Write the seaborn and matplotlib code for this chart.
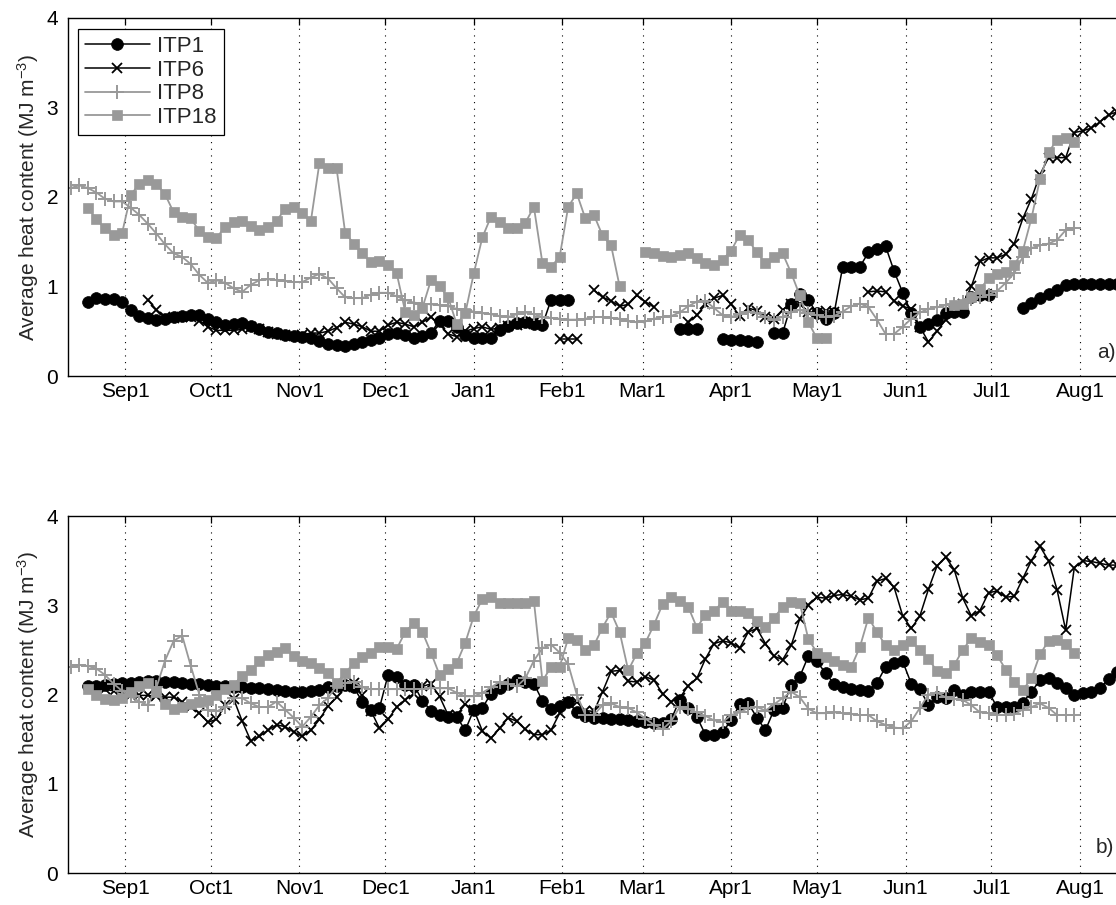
import numpy as np
import pandas as pd
import matplotlib
matplotlib.use("Agg")
import matplotlib.pyplot as plt
import seaborn as sns
from matplotlib.lines import Line2D

N = np.nan

# ---- axis labels / ticks ----
month_labels = ["Sep1", "Oct1", "Nov1", "Dec1", "Jan1", "Feb1",
                "Mar1", "Apr1", "May1", "Jun1", "Jul1", "Aug1"]
month_days = [0, 30, 61, 91, 122, 153, 181, 212, 242, 273, 303, 334]  # days after Sep 1
y_ticks = [0, 1, 2, 3, 4]
ylabel = "Average heat content (MJ m$^{-3}$)"
series_names = ["ITP1", "ITP6", "ITP8", "ITP18"]

# sampling: one value every 3 days starting 19 days before Sep 1
day0, step = -19, 3

# ---- panel a ----
itp1_a = [N, N, 0.83, 0.87, 0.86, 0.86, 0.83, 0.74, 0.67, 0.65,
          0.63, 0.64, 0.66, 0.67, 0.68, 0.68, 0.64, 0.60, 0.57, 0.58,
          0.59, 0.56, 0.52, 0.49, 0.48, 0.46, 0.45, 0.44, 0.42, 0.39,
          0.36, 0.35, 0.33, 0.36, 0.38, 0.40, 0.43, 0.47, 0.48, 0.46,
          0.43, 0.45, 0.48, 0.62, 0.62, 0.55, 0.46, 0.43, 0.42, 0.43,
          0.51, 0.56, 0.59, 0.60, 0.58, 0.57, 0.85, 0.85, 0.85, N,
          N, N, N, N, N, N, N, N, N, N,
          N, 0.52, 0.52, 0.52, N, N, 0.41, 0.40, 0.40, 0.39,
          0.38, N, 0.48, 0.48, 0.80, 0.92, 0.85, 0.70, 0.64, 0.70,
          1.22, 1.22, 1.22, 1.38, 1.42, 1.45, 1.17, 0.93, 0.70, 0.55,
          0.58, 0.63, 0.70, 0.71, 0.72, 0.88, 0.90, 0.90, N, N,
          N, 0.76, 0.82, 0.87, 0.92, 0.96, 1.02, 1.03, 1.03, 1.03,
          1.03, 1.03, 1.03]
itp6_a = [N, N, N, N, N, N, N, N, N, 0.85,
          0.74, 0.66, 0.65, 0.66, 0.66, 0.62, 0.55, 0.51, 0.51, 0.51,
          0.52, 0.55, 0.52, 0.49, 0.47, 0.46, 0.45, 0.46, 0.48, 0.48,
          0.50, 0.54, 0.60, 0.58, 0.55, 0.50, 0.50, 0.57, 0.60, 0.58,
          0.55, 0.60, 0.66, 0.58, 0.47, 0.44, 0.50, 0.53, 0.55, 0.52,
          0.54, 0.56, 0.57, 0.58, 0.60, N, N, 0.41, 0.41, 0.41,
          N, 0.96, 0.88, 0.84, 0.78, 0.80, 0.90, 0.83, 0.77, N,
          N, N, 0.60, 0.68, 0.80, 0.87, 0.90, 0.80, 0.67, 0.76,
          0.73, 0.66, 0.64, 0.74, 0.81, 0.80, 0.72, 0.70, 0.73, 0.72,
          N, N, N, 0.94, 0.95, 0.94, 0.84, 0.78, 0.75, 0.55,
          0.38, 0.50, 0.63, 0.73, 0.80, 1.00, 1.28, 1.32, 1.32, 1.36,
          1.48, 1.76, 1.98, 2.25, 2.44, 2.44, 2.44, 2.72, 2.74, 2.77,
          2.84, 2.92, 2.95]
itp8_a = [2.10, 2.13, 2.10, 2.05, 1.98, 1.95, 1.95, 1.88, 1.80, 1.70,
          1.59, 1.47, 1.37, 1.33, 1.25, 1.13, 1.04, 1.07, 1.04, 0.98,
          0.94, 1.02, 1.07, 1.08, 1.07, 1.06, 1.05, 1.05, 1.10, 1.14,
          1.09, 0.98, 0.88, 0.87, 0.87, 0.91, 0.93, 0.93, 0.89, 0.85,
          0.82, 0.81, 0.80, 0.79, 0.78, 0.75, 0.74, 0.72, 0.70, 0.69,
          0.67, 0.66, 0.69, 0.71, 0.69, 0.66, 0.65, 0.64, 0.63, 0.63,
          0.64, 0.66, 0.66, 0.65, 0.64, 0.61, 0.60, 0.61, 0.64, 0.66,
          0.67, 0.71, 0.78, 0.83, 0.84, 0.76, 0.68, 0.66, 0.69, 0.72,
          0.70, 0.66, 0.63, 0.66, 0.71, 0.74, 0.70, 0.68, 0.66, 0.67,
          0.72, 0.78, 0.81, 0.77, 0.63, 0.47, 0.47, 0.55, 0.64, 0.71,
          0.75, 0.77, 0.79, 0.81, 0.83, 0.86, 0.88, 0.91, 0.95, 1.04,
          1.15, 1.33, 1.43, 1.46, 1.48, 1.52, 1.63, 1.65, N, N,
          N, N, N]
itp18_a = [N, N, 1.88, 1.75, 1.65, 1.57, 1.60, 2.02, 2.15, 2.19,
           2.15, 2.03, 1.83, 1.78, 1.76, 1.62, 1.55, 1.54, 1.67, 1.72,
           1.73, 1.68, 1.63, 1.66, 1.73, 1.87, 1.89, 1.82, 1.73, 2.38,
           2.32, 2.32, 1.60, 1.48, 1.37, 1.27, 1.29, 1.24, 1.15, 0.72,
           0.68, 0.76, 1.07, 1.00, 0.88, 0.58, 0.70, 1.15, 1.55, 1.78,
           1.72, 1.65, 1.65, 1.71, 1.89, 1.26, 1.22, 1.33, 1.89, 2.04,
           1.76, 1.80, 1.57, 1.46, 1.00, N, N, 1.39, 1.37, 1.34,
           1.33, 1.35, 1.37, 1.32, 1.26, 1.24, 1.30, 1.40, 1.58, 1.52,
           1.38, 1.26, 1.33, 1.37, 1.15, 0.90, 0.60, 0.42, 0.42, N,
           N, N, N, N, N, N, N, N, N, N,
           N, N, N, 0.79, 0.81, 0.88, 0.97, 1.09, 1.14, 1.16,
           1.24, 1.40, 1.76, 2.20, 2.50, 2.64, 2.66, 2.62, N, N,
           N, N, N]

# ---- panel b ----
itp1_b = [N, N, 2.09, 2.10, 2.11, 2.12, 2.13, 2.13, 2.14, 2.15,
          2.15, 2.14, 2.14, 2.13, 2.12, 2.12, 2.11, 2.10, 2.10, 2.08,
          2.08, 2.07, 2.07, 2.06, 2.05, 2.04, 2.03, 2.03, 2.04, 2.05,
          2.08, 2.09, 2.11, 2.08, 1.92, 1.83, 1.85, 2.22, 2.20, 2.11,
          2.11, 1.93, 1.82, 1.77, 1.75, 1.75, 1.60, 1.83, 1.85, 2.01,
          2.07, 2.12, 2.16, 2.14, 2.12, 1.93, 1.84, 1.87, 1.92, 1.80,
          1.76, 1.74, 1.74, 1.73, 1.72, 1.71, 1.70, 1.69, 1.68, 1.68,
          1.72, 1.94, 1.85, 1.75, 1.55, 1.55, 1.58, 1.71, 1.89, 1.90,
          1.74, 1.60, 1.83, 1.85, 2.11, 2.20, 2.43, 2.37, 2.24, 2.12,
          2.08, 2.06, 2.05, 2.04, 2.13, 2.31, 2.35, 2.37, 2.12, 2.06,
          1.88, 1.97, 1.96, 2.05, 1.99, 2.03, 2.03, 2.03, 1.86, 1.86,
          1.86, 1.91, 2.03, 2.16, 2.18, 2.13, 2.07, 1.99, 2.02, 2.03,
          2.07, 2.17, 2.25]
itp6_b = [N, N, N, N, 2.06, 2.04, 2.02, 2.00, 1.99, 1.99,
          1.98, 1.97, 1.97, 1.92, 1.86, 1.79, 1.69, 1.72, 1.88, 1.95,
          1.70, 1.48, 1.53, 1.60, 1.66, 1.64, 1.58, 1.53, 1.60, 1.72,
          1.87, 1.97, 2.08, 2.13, 1.99, 1.82, 1.62, 1.72, 1.86, 1.94,
          2.01, 2.09, 2.12, 1.98, 1.77, 1.77, 1.89, 1.83, 1.59, 1.51,
          1.62, 1.74, 1.70, 1.61, 1.55, 1.55, 1.60, 1.79, 1.92, 1.92,
          1.82, 1.81, 2.03, 2.26, 2.27, 2.15, 2.14, 2.20, 2.16, 2.01,
          1.92, 1.96, 2.10, 2.18, 2.40, 2.57, 2.60, 2.58, 2.52, 2.70,
          2.74, 2.57, 2.43, 2.39, 2.55, 2.85, 3.00, 3.09, 3.08, 3.11,
          3.12, 3.10, 3.06, 3.08, 3.27, 3.30, 3.20, 2.88, 2.74, 2.88,
          3.18, 3.44, 3.54, 3.40, 3.08, 2.88, 2.94, 3.14, 3.16, 3.09,
          3.10, 3.30, 3.50, 3.66, 3.50, 3.17, 2.72, 3.42, 3.50, 3.49,
          3.47, 3.45, 3.45]
itp8_b = [2.31, 2.33, 2.32, 2.29, 2.22, 2.12, 2.04, 1.98, 1.92, 1.88,
          2.08, 2.38, 2.60, 2.66, 2.32, 2.00, 1.83, 1.81, 1.86, 1.96,
          1.96, 1.90, 1.86, 1.86, 1.92, 1.83, 1.74, 1.64, 1.75, 1.88,
          1.96, 2.10, 2.13, 2.14, 2.08, 2.06, 2.06, 2.06, 2.06, 2.06,
          2.06, 2.06, 2.07, 2.07, 2.07, 2.02, 1.98, 1.98, 2.02, 2.08,
          2.14, 2.12, 2.09, 2.18, 2.38, 2.52, 2.56, 2.47, 2.34, 2.00,
          1.77, 1.77, 1.88, 1.90, 1.86, 1.85, 1.80, 1.73, 1.66, 1.61,
          1.70, 1.86, 1.84, 1.80, 1.76, 1.71, 1.69, 1.77, 1.80, 1.85,
          1.86, 1.82, 1.89, 1.96, 2.03, 1.97, 1.84, 1.79, 1.79, 1.80,
          1.79, 1.78, 1.77, 1.77, 1.70, 1.66, 1.63, 1.62, 1.70, 1.85,
          2.00, 2.02, 1.97, 1.95, 1.94, 1.88, 1.80, 1.79, 1.77, 1.77,
          1.78, 1.83, 1.86, 1.90, 1.85, 1.77, 1.77, 1.77, N, N,
          N, N, N]
itp18_b = [N, N, 2.06, 2.00, 1.95, 1.94, 1.96, 2.03, 2.09, 2.13,
           2.03, 1.89, 1.84, 1.86, 1.89, 1.92, 1.94, 2.00, 2.06, 2.11,
           2.21, 2.28, 2.37, 2.44, 2.48, 2.52, 2.43, 2.38, 2.35, 2.30,
           2.24, 2.13, 2.24, 2.35, 2.42, 2.47, 2.53, 2.53, 2.51, 2.70,
           2.80, 2.70, 2.47, 2.22, 2.29, 2.35, 2.58, 2.88, 3.07, 3.09,
           3.03, 3.02, 3.02, 3.02, 3.05, 2.15, 2.31, 2.31, 2.63, 2.61,
           2.50, 2.55, 2.75, 2.92, 2.70, 2.27, 2.46, 2.58, 2.78, 3.01,
           3.09, 3.05, 2.98, 2.75, 2.89, 2.93, 3.04, 2.93, 2.94, 2.91,
           2.82, 2.76, 2.86, 2.98, 3.04, 3.02, 2.62, 2.47, 2.42, 2.37,
           2.33, 2.31, 2.53, 2.86, 2.70, 2.55, 2.50, 2.56, 2.60, 2.50,
           2.40, 2.26, 2.24, 2.33, 2.50, 2.63, 2.59, 2.55, 2.44, 2.28,
           2.14, 2.05, 2.18, 2.45, 2.60, 2.61, 2.57, 2.46, N, N,
           N, N, N]

panels = {
    "a": {"ITP1": itp1_a, "ITP6": itp6_a, "ITP8": itp8_a, "ITP18": itp18_a},
    "b": {"ITP1": itp1_b, "ITP6": itp6_b, "ITP8": itp8_b, "ITP18": itp18_b},
}

# ---- build long table, splitting series at gaps ----
rows = []
for pname, sers in panels.items():
    for sname, vals in sers.items():
        seg = 0
        prev_nan = True
        for k, v in enumerate(vals):
            if np.isnan(v):
                prev_nan = True
                continue
            if prev_nan:
                seg += 1
            prev_nan = False
            rows.append((pname, sname, seg, day0 + step * k, v))
df = pd.DataFrame(rows, columns=["panel", "series", "seg", "day", "value"])

# ---- style ----
sns.set_style("white")
plt.rcParams["font.family"] = ["Liberation Sans", "DejaVu Sans"]
plt.rcParams["mathtext.fontset"] = "custom"
plt.rcParams["mathtext.rm"] = "Liberation Sans"
plt.rcParams["mathtext.it"] = "Liberation Sans:italic"
plt.rcParams["mathtext.default"] = "regular"
FS = 15
LFS = 16

gray = "#999999"
styles = {
    "ITP1": dict(color="black", marker="o", markersize=8.5, markerfacecolor="black",
                 markeredgecolor="black", markeredgewidth=0.5, linewidth=1.1),
    "ITP6": dict(color="black", marker="x", markersize=7, markerfacecolor="black",
                 markeredgecolor="black", markeredgewidth=1.3, linewidth=1.1),
    "ITP8": dict(color=gray, marker="+", markersize=9.5, markerfacecolor=gray,
                 markeredgecolor=gray, markeredgewidth=1.4, linewidth=1.3),
    "ITP18": dict(color=gray, marker="s", markersize=7.6, markerfacecolor=gray,
                  markeredgecolor=gray, markeredgewidth=0.5, linewidth=1.3),
}

fig = plt.figure(figsize=(11.16, 9.05), dpi=100)
W, H = 1116.0, 905.0
x_lo, x_hi = -20, 352
px_per_day = (1080 - 125) / 334.0
left_px = 125 + px_per_day * x_lo
right_px = 125 + px_per_day * x_hi
ax_w_px = right_px - left_px

ax_a = fig.add_axes([left_px / W, 1 - 376 / H, ax_w_px / W, 358 / H])
ax_b = fig.add_axes([left_px / W, 1 - 873 / H, ax_w_px / W, 357 / H])

for pname, ax in (("a", ax_a), ("b", ax_b)):
    for sname in series_names:
        sub = df[(df.panel == pname) & (df.series == sname)]
        sns.lineplot(data=sub, x="day", y="value", units="seg", estimator=None,
                     sort=True, ax=ax, legend=False, **styles[sname])
    ax.set_xlim(x_lo, x_hi)
    ax.set_ylim(0, 4)
    ax.set_yticks(y_ticks)
    ax.set_yticklabels([str(t) for t in y_ticks])
    ax.set_xticks(month_days)
    ax.set_xticklabels(month_labels)
    ax.set_xlabel("")
    ax.set_ylabel(ylabel, fontsize=FS)
    ax.yaxis.set_label_coords((41 - left_px) / ax_w_px, 0.5)
    ax.tick_params(axis="both", direction="in", top=True, right=True,
                   length=5, width=0.9, labelsize=FS, colors="black")
    ax.tick_params(axis="y", pad=7)
    ax.tick_params(axis="x", pad=4)
    ax.grid(axis="x", color="black", linestyle=(0, (1, 5)), linewidth=0.8)
    ax.grid(axis="y", visible=False)
    for sp in ax.spines.values():
        sp.set_color("black")
        sp.set_linewidth(1.0)

# legend in panel a
handles = [Line2D([], [], **styles[s]) for s in series_names]
leg = ax_a.legend(handles, series_names, loc="upper left",
                  bbox_to_anchor=((78 - left_px) / ax_w_px, 1 - 11 / 358.0),
                  borderaxespad=0, fontsize=LFS, handlelength=2.9,
                  handletextpad=0.35, labelspacing=0.12, borderpad=0.32,
                  frameon=True, fancybox=False, framealpha=1, numpoints=1)
leg.get_frame().set_edgecolor("black")
leg.get_frame().set_linewidth(0.9)

fig.text(1097 / W, 1 - 352 / H, "a)", ha="left", va="center", fontsize=FS)
fig.text(1096 / W, 1 - 847 / H, "b)", ha="left", va="center", fontsize=FS)

fig.savefig("out.png", dpi=100)
